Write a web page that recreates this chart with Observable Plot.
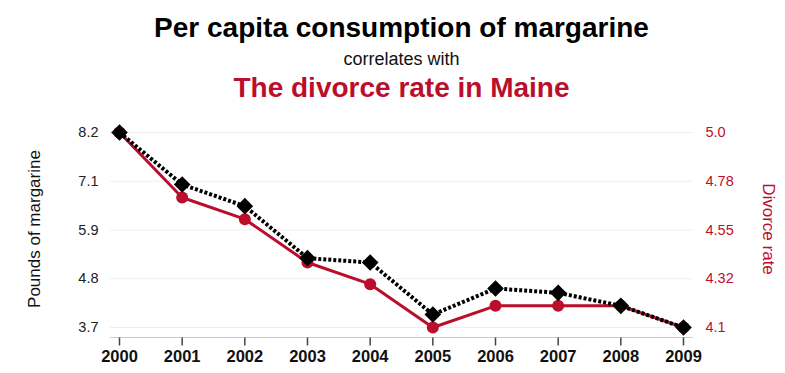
<!DOCTYPE html>
<html><head><meta charset="utf-8">
<script src="https://cdn.jsdelivr.net/npm/d3@7"></script>
<script src="https://cdn.jsdelivr.net/npm/@observablehq/plot@0.6"></script>
<style>
body{margin:0;background:#fff;font-family:"Liberation Sans",Arial,sans-serif;}
#wrap{position:relative;width:785px;height:373px;overflow:hidden;}
.t{position:absolute;left:9px;width:785px;text-align:center;white-space:nowrap;}
#t1{top:12px;font-size:28px;line-height:32px;font-weight:bold;color:#000;}
#t2{top:48px;font-size:18px;line-height:22px;color:#111;}
#t3{top:71px;font-size:28px;line-height:34px;font-weight:bold;color:#bb0e2c;}
#chart{position:absolute;top:115px;left:0;line-height:0;}
.yl{position:absolute;width:200px;height:22px;line-height:22px;text-align:center;font-size:17px;white-space:nowrap;}
#yl1{left:-65px;top:218px;transform:rotate(-90deg);color:#111;}
#yl2{left:668px;top:218px;transform:rotate(90deg);color:#bb0e2c;}
</style></head>
<body><div id="wrap">
<div class="t" id="t1">Per capita consumption of margarine</div>
<div class="t" id="t2">correlates with</div>
<div class="t" id="t3">The divorce rate in Maine</div>
<div id="chart"></div>
<div class="yl" id="yl1">Pounds of margarine</div>
<div class="yl" id="yl2">Divorce rate</div>
</div>
<script>
const years = [2000,2001,2002,2003,2004,2005,2006,2007,2008,2009];
const margarine = [8.2,7.0,6.5,5.3,5.2,4.0,4.6,4.5,4.2,3.7];
const divorce = [5.0,4.7,4.6,4.4,4.3,4.1,4.2,4.2,4.2,4.1];
const leftTicks = [3.7,4.825,5.95,7.075,8.2];
const leftTickLabels = ["3.7","4.8","5.9","7.1","8.2"];
const rightTickLabels = ["4.1","4.32","4.55","4.78","5.0"];
const mDomain = [3.7,8.2];
const dDomain = [4.1,5.0];
const red = "#bb0e2c";

// map divorce values onto margarine scale (dual axis)
const toM = v => mDomain[0] + (v - dDomain[0]) / (dDomain[1]-dDomain[0]) * (mDomain[1]-mDomain[0]);
const mData = years.map((y,i)=>({year:y, v:margarine[i]}));
const dData = years.map((y,i)=>({year:y, v:toM(divorce[i])}));

// vertical tick symbol for x-axis tick marks
const vtick = {draw(ctx){ ctx.moveTo(0,-4); ctx.lineTo(0,4); }};

const chart = Plot.plot({
  width:785, height:258,
  marginLeft:110, marginRight:93, marginTop:17, marginBottom:36,
  insetLeft:9, insetRight:9, insetBottom:10,
  style:{fontFamily:"Liberation Sans, Arial, sans-serif", fontSize:"14.5px", color:"#222", background:"#fff"},
  x:{domain:[2000,2009], type:"linear"},
  y:{domain:mDomain},
  marks:[
    Plot.gridY(leftTicks,{stroke:"#eee", strokeOpacity:1}),
    Plot.frame({anchor:"bottom", stroke:"#ccc"}),
    Plot.dot(years,{x:d=>d, y:()=>mDomain[0], dy:14, symbol:vtick, stroke:"#444", strokeWidth:1.5, fill:"none"}),
    Plot.axisX(years,{tickFormat:d=>String(d), tickSize:0, tickPadding:13, fontWeight:"bold", fontSize:16.5, fill:"#111", label:null}),
    Plot.axisY(leftTicks,{anchor:"left", tickSize:0, tickPadding:12, tickFormat:(d,i)=>leftTickLabels[i], fill:"#222", label:null}),
    Plot.axisY(leftTicks,{anchor:"right", tickSize:0, tickPadding:13, tickFormat:(d,i)=>rightTickLabels[i], fill:red, label:null}),
    Plot.line(dData,{x:"year", y:"v", stroke:red, strokeWidth:3}),
    Plot.dot(dData,{x:"year", y:"v", fill:red, r:6}),
    Plot.line(mData,{x:"year", y:"v", stroke:"#000", strokeWidth:4, strokeDasharray:"3,2", strokeLinecap:"butt", strokeLinejoin:"miter"}),
    Plot.dot(mData,{x:"year", y:"v", fill:"#000", symbol:"diamond2", r:7.5})
  ]
});
document.getElementById("chart").appendChild(chart);
</script>
</body></html>
